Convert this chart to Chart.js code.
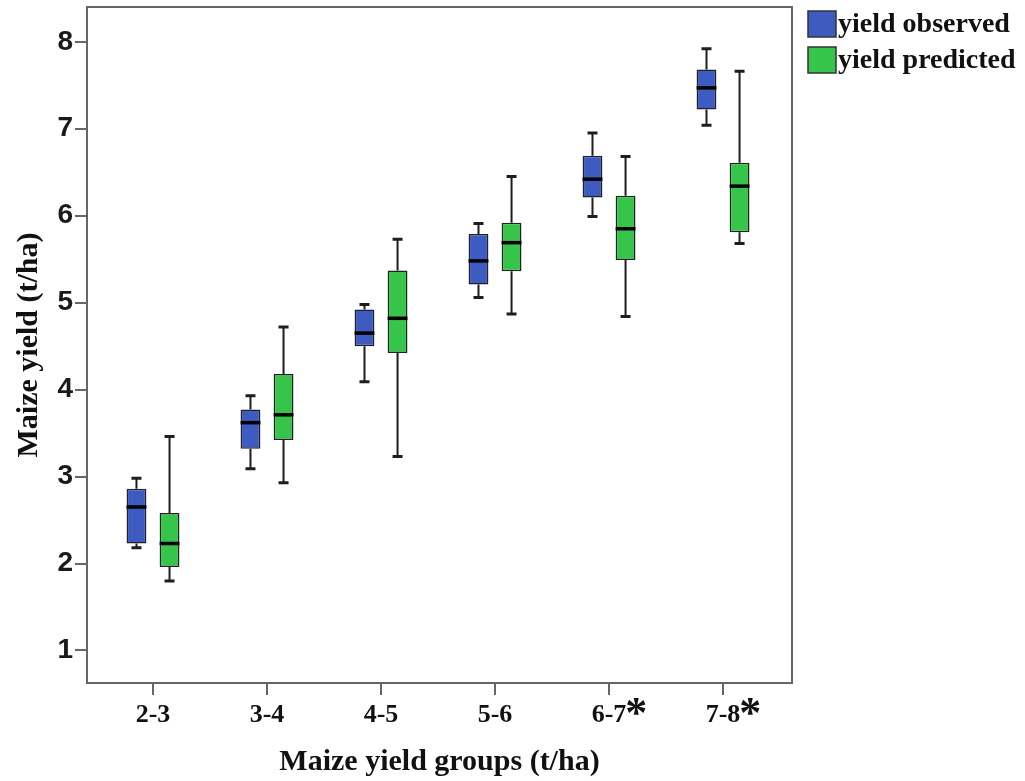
<!DOCTYPE html>
<html>
<head>
<meta charset="utf-8">
<script src="https://cdn.jsdelivr.net/npm/chart.js@4"></script>
<style>
  body { margin: 0; background: #fff; }
  canvas { display: block; }
</style>
</head>
<body>
<canvas id="yield-chart" width="1025" height="781"></canvas>
<script>
// Maize yield box plots: observed vs predicted

// Data
const categories = ['2-3', '3-4', '4-5', '5-6', '6-7', '7-8'];
const significant = [false, false, false, false, true, true]; // groups marked with *
const yTicks = [1, 2, 3, 4, 5, 6, 7, 8];

const obsMin    = [2.18, 3.09, 4.09, 5.06, 5.99, 7.04];
const obsQ1     = [2.23, 3.32, 4.50, 5.21, 6.21, 7.22];
const obsMedian = [2.65, 3.62, 4.65, 5.48, 6.42, 7.47];
const obsQ3     = [2.86, 3.77, 4.92, 5.79, 6.69, 7.68];
const obsMax    = [2.98, 3.93, 4.98, 5.91, 6.95, 7.92];

const predMin    = [1.80, 2.93, 3.23, 4.87, 4.84, 5.68];
const predQ1     = [1.96, 3.42, 4.42, 5.36, 5.49, 5.81];
const predMedian = [2.23, 3.71, 4.82, 5.69, 5.85, 6.34];
const predQ3     = [2.58, 4.18, 5.37, 5.92, 6.23, 6.61];
const predMax    = [3.46, 4.72, 5.73, 6.45, 6.68, 7.66];

const serif = "'Liberation Serif', 'Times New Roman', serif";
const sans = "'Liberation Sans', Arial, sans-serif";

// build floating bar data (box = Q1..Q3)
function boxData(q1, q3) {
    return categories.map((c, i) => ({ x: i, y: [q1[i], q3[i]] }));
}

const stats = [
    { min: obsMin, med: obsMedian, max: obsMax },
    { min: predMin, med: predMedian, max: predMax }
];

// whiskers + medians on top of the boxes
const boxPlotPlugin = {
    id: 'boxPlot',
    afterDatasetsDraw(chart) {
        const ctx = chart.ctx;
        const y = chart.scales.y;
        chart.data.datasets.forEach((ds, di) => {
            const meta = chart.getDatasetMeta(di);
            const s = stats[di];
            meta.data.forEach((bar, i) => {
                const cx = bar.x;
                const half = bar.width / 2;
                const yTop = y.getPixelForValue(ds.data[i].y[1]);
                const yBot = y.getPixelForValue(ds.data[i].y[0]);
                const yMax = y.getPixelForValue(s.max[i]);
                const yMin = y.getPixelForValue(s.min[i]);
                const yMed = y.getPixelForValue(s.med[i]);
                ctx.save();
                ctx.strokeStyle = '#1e1e1e';
                ctx.lineWidth = 2;
                ctx.beginPath();
                ctx.moveTo(cx, yTop); ctx.lineTo(cx, yMax);
                ctx.moveTo(cx, yBot); ctx.lineTo(cx, yMin);
                ctx.stroke();
                // caps
                ctx.lineWidth = 3;
                ctx.beginPath();
                ctx.moveTo(cx - 5, yMax); ctx.lineTo(cx + 5, yMax);
                ctx.moveTo(cx - 5, yMin); ctx.lineTo(cx + 5, yMin);
                ctx.stroke();
                // median
                ctx.strokeStyle = '#000';
                ctx.lineWidth = 3.5;
                ctx.beginPath();
                ctx.moveTo(cx - half, yMed); ctx.lineTo(cx + half, yMed);
                ctx.stroke();
                ctx.restore();
            });
        });
    }
};

// frame, legend and asterisks
const decorPlugin = {
    id: 'decor',
    beforeDraw(chart) {
        const ctx = chart.ctx;
        ctx.save();
        ctx.fillStyle = '#fff';
        ctx.fillRect(0, 0, chart.width, chart.height);
        ctx.restore();
    },
    afterDraw(chart) {
        const ctx = chart.ctx;
        const a = chart.chartArea;
        ctx.save();
        ctx.strokeStyle = '#666';
        ctx.lineWidth = 2;
        ctx.strokeRect(a.left, a.top, a.right - a.left, a.bottom - a.top);

        // legend
        ctx.font = 'bold 28px ' + serif;
        ctx.textBaseline = 'middle';
        ctx.textAlign = 'left';
        chart.data.datasets.forEach((ds, i) => {
            const top = 11 + i * 36;
            ctx.fillStyle = ds.backgroundColor;
            ctx.fillRect(a.right + 16, top, 28, 26);
            ctx.strokeStyle = '#333';
            ctx.lineWidth = 1.5;
            ctx.strokeRect(a.right + 16, top, 28, 26);
            ctx.fillStyle = '#111';
            ctx.fillText(ds.label, a.right + 46, top + 14);
        });

        // asterisks after significant group labels
        const x = chart.scales.x;
        ctx.font = 'bold 26px ' + serif;
        significant.forEach((sig, i) => {
            if (!sig) return;
            const w = ctx.measureText(categories[i]).width;
            const px = x.getPixelForValue(i) + w / 2;
            ctx.save();
            ctx.font = 'bold 44px ' + serif;
            ctx.textBaseline = 'top';
            ctx.fillStyle = '#111';
            ctx.fillText('*', px - 1, x.top + 11);
            ctx.restore();
        });
        ctx.restore();
    }
};

new Chart(document.getElementById('yield-chart'), {
    type: 'bar',
    data: {
        datasets: [
            {
                label: 'yield observed',
                data: boxData(obsQ1, obsQ3),
                backgroundColor: '#3e5bc2',
                borderColor: '#222',
                borderWidth: 1.5,
                borderSkipped: false
            },
            {
                label: 'yield predicted',
                data: boxData(predQ1, predQ3),
                backgroundColor: '#37c44b',
                borderColor: '#222',
                borderWidth: 1.5,
                borderSkipped: false
            }
        ]
    },
    options: {
        responsive: false,
        animation: false,
        categoryPercentage: 0.58,
        barPercentage: 0.6,
        layout: { padding: { top: 7, right: 233, left: 0, bottom: 0 } },
        plugins: {
            legend: { display: false },
            tooltip: { enabled: false }
        },
        scales: {
            x: {
                type: 'linear',
                offset: false,
                min: -0.579,
                max: 5.605,
                afterFit(scale) {
                    scale.height = 98;
                    scale.paddingLeft = 0;
                    scale.paddingRight = 0;
                },
                afterBuildTicks(scale) {
                    scale.ticks = categories.map((c, i) => ({ value: i }));
                },
                ticks: {
                    callback: (v) => categories[v],
                    font: { family: serif, size: 26, weight: 'bold' },
                    color: '#111',
                    padding: 5,
                    maxRotation: 0,
                    autoSkip: false
                },
                grid: { offset: false, drawOnChartArea: false, drawTicks: true, tickLength: 12, color: '#666', lineWidth: 2 },
                border: { color: '#666', width: 2 },
                title: {
                    display: true,
                    text: 'Maize yield groups (t/ha)',
                    font: { family: serif, size: 30, weight: 'bold' },
                    color: '#111',
                    padding: { top: 0, bottom: 1 }
                }
            },
            y: {
                min: 0.626,
                max: 8.4,
                afterFit(scale) {
                    scale.width = 87;
                    scale.paddingTop = 0;
                    scale.paddingBottom = 0;
                },
                afterBuildTicks(scale) {
                    scale.ticks = yTicks.map(v => ({ value: v }));
                },
                ticks: {
                    font: { family: sans, size: 28, weight: 'bold' },
                    color: '#1a1a1a',
                    padding: 2
                },
                grid: { drawOnChartArea: false, drawTicks: true, tickLength: 12, color: '#666', lineWidth: 2 },
                border: { color: '#666', width: 2 },
                title: {
                    display: true,
                    text: 'Maize yield (t/ha)',
                    font: { family: serif, size: 30, weight: 'bold' },
                    color: '#111',
                    padding: { top: 11, bottom: 0 }
                }
            }
        }
    },
    plugins: [boxPlotPlugin, decorPlugin]
});
</script>
</body>
</html>
